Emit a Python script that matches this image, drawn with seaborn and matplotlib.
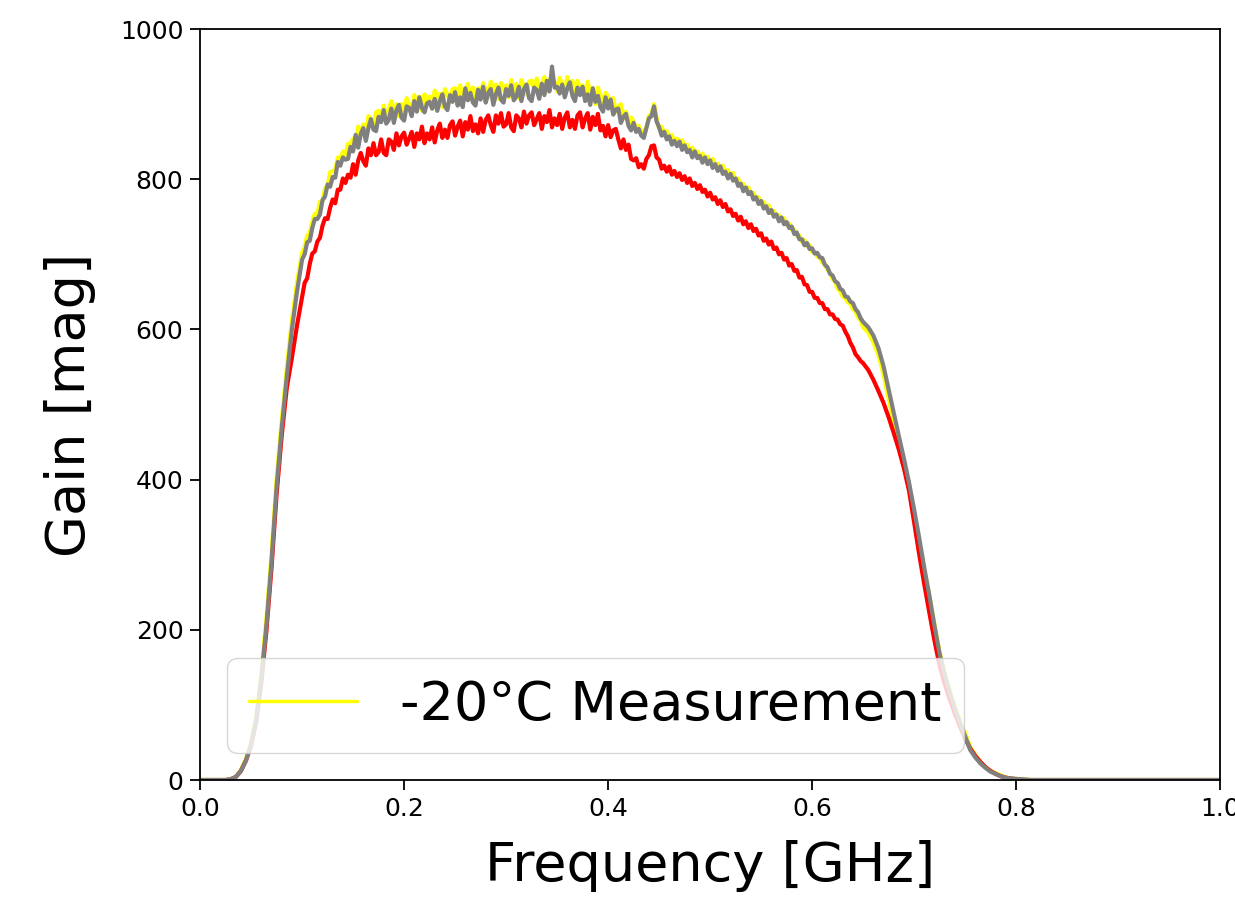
import matplotlib
matplotlib.use("Agg")
import matplotlib.pyplot as plt
import seaborn as sns
import pandas as pd

# Frequency samples [GHz]
freq = [0.000,
    0.020, 0.025, 0.030, 0.035, 0.040, 0.045, 0.050, 0.055,
    0.060, 0.065, 0.070, 0.075, 0.080, 0.085, 0.090, 0.095,
    0.1000, 0.1025, 0.1050, 0.1075, 0.1100, 0.1125, 0.1150, 0.1175, 0.1200, 0.1225,
    0.1250, 0.1275, 0.1300, 0.1325, 0.1350, 0.1375, 0.1400, 0.1425, 0.1450, 0.1475,
    0.1500, 0.1525, 0.1550, 0.1575, 0.1600, 0.1625, 0.1650, 0.1675, 0.1700, 0.1725,
    0.1750, 0.1775, 0.1800, 0.1825, 0.1850, 0.1875, 0.1900, 0.1925, 0.1950, 0.1975,
    0.2000, 0.2025, 0.2050, 0.2075, 0.2100, 0.2125, 0.2150, 0.2175, 0.2200, 0.2225,
    0.2250, 0.2275, 0.2300, 0.2325, 0.2350, 0.2375, 0.2400, 0.2425, 0.2450, 0.2475,
    0.2500, 0.2525, 0.2550, 0.2575, 0.2600, 0.2625, 0.2650, 0.2675, 0.2700, 0.2725,
    0.2750, 0.2775, 0.2800, 0.2825, 0.2850, 0.2875, 0.2900, 0.2925, 0.2950, 0.2975,
    0.3000, 0.3025, 0.3050, 0.3075, 0.3100, 0.3125, 0.3150, 0.3175, 0.3200, 0.3225,
    0.3250, 0.3275, 0.3300, 0.3325, 0.3350, 0.3375, 0.3400, 0.3425, 0.3450, 0.3475,
    0.3500, 0.3525, 0.3550, 0.3575, 0.3600, 0.3625, 0.3650, 0.3675, 0.3700, 0.3725,
    0.3750, 0.3775, 0.3800, 0.3825, 0.3850, 0.3875, 0.3900, 0.3925, 0.3950, 0.3975,
    0.4000, 0.4025, 0.4050, 0.4075, 0.4100, 0.4125, 0.4150, 0.4175, 0.4200, 0.4225,
    0.4250, 0.4275, 0.4300, 0.4325, 0.4350, 0.4375, 0.4400, 0.4425, 0.4450, 0.4475,
    0.4500, 0.4525, 0.4550, 0.4575, 0.4600, 0.4625, 0.4650, 0.4675, 0.4700, 0.4725,
    0.4750, 0.4775, 0.4800, 0.4825, 0.4850, 0.4875, 0.4900, 0.4925, 0.4950, 0.4975,
    0.5000, 0.5025, 0.5050, 0.5075, 0.5100, 0.5125, 0.5150, 0.5175, 0.5200, 0.5225,
    0.5250, 0.5275, 0.5300, 0.5325, 0.5350, 0.5375, 0.5400, 0.5425, 0.5450, 0.5475,
    0.5500, 0.5525, 0.5550, 0.5575, 0.5600, 0.5625, 0.5650, 0.5675, 0.5700, 0.5725,
    0.5750, 0.5775, 0.5800, 0.5825, 0.5850, 0.5875, 0.5900, 0.5925, 0.5950, 0.5975,
    0.6000, 0.6025, 0.6050, 0.6075, 0.6100, 0.6125, 0.6150, 0.6175, 0.6200, 0.6225,
    0.6250, 0.6275, 0.6300, 0.6325, 0.6350, 0.6375, 0.6400, 0.6425, 0.6450, 0.6475,
    0.6500,
    0.655, 0.660, 0.665, 0.670, 0.675, 0.680, 0.685, 0.690, 0.695, 0.700,
    0.705, 0.710, 0.715, 0.720, 0.725, 0.730, 0.735, 0.740, 0.745, 0.750,
    0.755, 0.760, 0.765, 0.770, 0.775, 0.780, 0.785, 0.790, 0.795, 0.800,
    0.805, 0.810, 0.815, 0.820,
    1.000]

# -20 degC measurement (yellow)
gain_yellow = [0,
    0, 0, 1, 4, 13, 28, 50, 85,
    142, 214, 300, 400, 478, 548, 612, 662,
    702, 709, 725, 728, 743, 754, 754, 770, 771, 788,
    791, 809, 811, 812, 829, 826, 837, 832, 847, 847,
    854, 843, 870, 860, 873, 858, 884, 879, 870, 889,
    891, 881, 898, 882, 893, 904, 884, 900, 884, 900,
    889, 908, 900, 890, 912, 897, 910, 891, 913, 904,
    910, 894, 918, 904, 914, 896, 920, 913, 903, 920,
    921, 909, 925, 907, 918, 927, 907, 922, 906, 921,
    910, 928, 919, 908, 930, 914, 926, 907, 928, 919,
    925, 909, 932, 917, 927, 908, 932, 924, 913, 930,
    931, 919, 934, 916, 927, 936, 916, 931, 938, 929,
    917, 935, 926, 915, 936, 920, 931, 911, 931, 921,
    925, 908, 930, 914, 921, 900, 922, 912, 900, 915,
    910, 899, 908, 890, 896, 900, 881, 890, 873, 882,
    877, 867, 871, 862, 865, 868, 884, 887, 900, 882,
    867, 870, 860, 864, 854, 859, 849, 854, 847, 852,
    842, 846, 837, 842, 834, 837, 829, 834, 825, 830,
    822, 827, 818, 821, 812, 818, 810, 812, 804, 808,
    798, 801, 791, 794, 785, 789, 780, 782, 773, 776,
    767, 770, 762, 765, 755, 758, 750, 752, 745, 748,
    739, 741, 733, 733, 724, 725, 717, 719, 711, 712,
    703, 703, 697, 696, 689, 687, 679, 676, 667, 664,
    654, 651, 644, 642, 636, 634, 627, 624, 616, 612,
    603,
    596, 583, 566, 540, 508, 478, 448, 418, 388, 352,
    316, 279, 244, 206, 170, 143, 120, 99, 80, 62,
    44, 33, 24, 17, 12, 9, 6, 3.5, 2, 1.5,
    1, 0.5, 0, 0,
    0]

# Second measurement (red)
gain_red = [0,
    0, 0, 1, 4, 12, 26, 46, 78,
    130, 198, 282, 380, 458, 522, 562, 605,
    643, 662, 668, 687, 701, 704, 717, 722, 738, 748,
    747, 762, 773, 768, 786, 786, 801, 795, 806, 802,
    820, 806, 825, 835, 824, 818, 841, 832, 848, 832,
    836, 853, 835, 832, 853, 850, 839, 861, 845, 857,
    862, 846, 854, 863, 843, 861, 853, 870, 848, 861,
    853, 869, 849, 865, 874, 855, 866, 855, 872, 877,
    858, 870, 878, 857, 876, 866, 884, 864, 873, 861,
    881, 863, 879, 885, 872, 863, 885, 874, 888, 870,
    873, 888, 869, 864, 885, 881, 869, 890, 874, 885,
    889, 872, 880, 888, 867, 884, 876, 892, 869, 881,
    872, 887, 867, 882, 889, 869, 879, 867, 885, 889,
    869, 881, 888, 866, 883, 872, 887, 865, 871, 857,
    872, 856, 865, 867, 853, 841, 853, 839, 846, 827,
    825, 828, 816, 820, 814, 827, 832, 844, 845, 829,
    826, 814, 818, 810, 817, 806, 811, 803, 808, 799,
    804, 795, 801, 791, 795, 787, 792, 783, 786, 777,
    782, 773, 776, 767, 772, 763, 767, 757, 760, 751,
    754, 745, 750, 740, 744, 735, 740, 731, 734, 725,
    728, 718, 721, 713, 717, 707, 709, 700, 702, 693,
    695, 685, 687, 678, 679, 669, 670, 660, 659, 650,
    650, 642, 642, 635, 635, 627, 627, 620, 620, 614,
    613, 607, 605, 597, 591, 582, 576, 567, 563, 558,
    555,
    546, 533, 518, 502, 483, 462, 440, 415, 385, 343,
    300, 260, 222, 185, 152, 128, 107, 88, 71, 55,
    42, 32, 24, 17, 12, 8, 5, 3, 2, 1,
    0.5, 0, 0, 0,
    0]

# Third measurement (gray)
gain_gray = [0,
    0, 0, 1, 4, 12, 26, 47, 80,
    135, 205, 290, 390, 468, 537, 600, 650,
    693, 700, 716, 718, 735, 747, 747, 753, 772, 777,
    793, 790, 803, 802, 823, 818, 829, 826, 827, 843,
    837, 859, 842, 860, 868, 851, 868, 880, 866, 864,
    883, 876, 892, 874, 879, 894, 875, 892, 899, 882,
    878, 897, 895, 884, 904, 890, 909, 895, 889, 901,
    903, 894, 907, 891, 904, 913, 897, 892, 912, 903,
    916, 898, 909, 896, 921, 905, 915, 902, 898, 919,
    906, 923, 902, 915, 920, 899, 913, 922, 906, 902,
    920, 911, 925, 905, 910, 923, 904, 920, 926, 908,
    904, 922, 919, 907, 927, 912, 931, 917, 950, 922,
    923, 914, 926, 909, 921, 929, 911, 904, 922, 912,
    923, 904, 913, 899, 921, 903, 911, 896, 890, 909,
    894, 906, 886, 893, 894, 875, 883, 887, 871, 865,
    875, 863, 867, 858, 855, 868, 881, 884, 897, 877,
    869, 858, 863, 853, 857, 846, 851, 844, 850, 839,
    845, 836, 839, 829, 837, 828, 831, 822, 829, 820,
    825, 815, 820, 811, 817, 807, 810, 801, 807, 798,
    801, 791, 794, 784, 789, 780, 783, 773, 776, 767,
    771, 761, 764, 755, 759, 750, 753, 744, 749, 740,
    743, 735, 737, 727, 729, 720, 720, 712, 715, 707,
    708, 701, 702, 696, 695, 686, 683, 674, 672, 664,
    662, 654, 652, 644, 643, 637, 635, 627, 623, 615,
    610,
    603, 592, 575, 551, 520, 489, 458, 428, 396, 360,
    322, 282, 245, 205, 168, 140, 116, 95, 76, 58,
    40, 30, 22, 16, 11, 8, 5, 3, 2, 1.5,
    1, 0.5, 0, 0,
    0]

legend_label = "-20°C Measurement"
x_ticks = [0.0, 0.2, 0.4, 0.6, 0.8, 1.0]
y_ticks = [0, 200, 400, 600, 800, 1000]

sns.set_style("ticks")
plt.rcParams["font.family"] = ["DejaVu Sans"]
plt.rcParams["text.color"] = "black"
plt.rcParams["axes.labelcolor"] = "black"
plt.rcParams["xtick.color"] = "black"
plt.rcParams["ytick.color"] = "black"

df = pd.DataFrame({"freq": freq, "yellow": gain_yellow,
                   "red": gain_red, "gray": gain_gray})

fig = plt.figure(figsize=(12.35, 8.98), dpi=100)
ax = fig.add_axes([0.162, 0.1314, 0.8260, 0.8363])

lw = 3.0
sns.lineplot(data=df, x="freq", y="yellow", color="#ffff00", lw=lw,
             label=legend_label, ax=ax, sort=False, estimator=None)
sns.lineplot(data=df, x="freq", y="red", color="#ff0000", lw=lw,
             ax=ax, sort=False, estimator=None, legend=False)
sns.lineplot(data=df, x="freq", y="gray", color="#808080", lw=lw,
             ax=ax, sort=False, estimator=None, legend=False)

ax.set_xlim(0, 1.0)
ax.set_ylim(0, 1000)
ax.set_xticks(x_ticks)
ax.set_yticks(y_ticks)
ax.set_xticklabels([f"{t:.1f}" for t in x_ticks])
ax.set_yticklabels([str(t) for t in y_ticks])

ax.set_xlabel("Frequency [GHz]", fontsize=39, labelpad=14, color="black")
ax.set_ylabel("Gain [mag]", fontsize=39, labelpad=17, color="black")
ax.tick_params(axis="both", labelsize=18, length=7, width=1.3,
               direction="out", colors="black", pad=5)
for sp in ax.spines.values():
    sp.set_color("black")
    sp.set_linewidth(1.3)
    sp.set_visible(True)

leg = ax.legend(loc="lower left", fontsize=39, frameon=True,
                framealpha=0.8, edgecolor="0.8", fancybox=True)
for line in leg.get_lines():
    line.set_linewidth(2.5)
for txt in leg.get_texts():
    txt.set_color("black")

fig.savefig("out.png", dpi=100, facecolor="white")
